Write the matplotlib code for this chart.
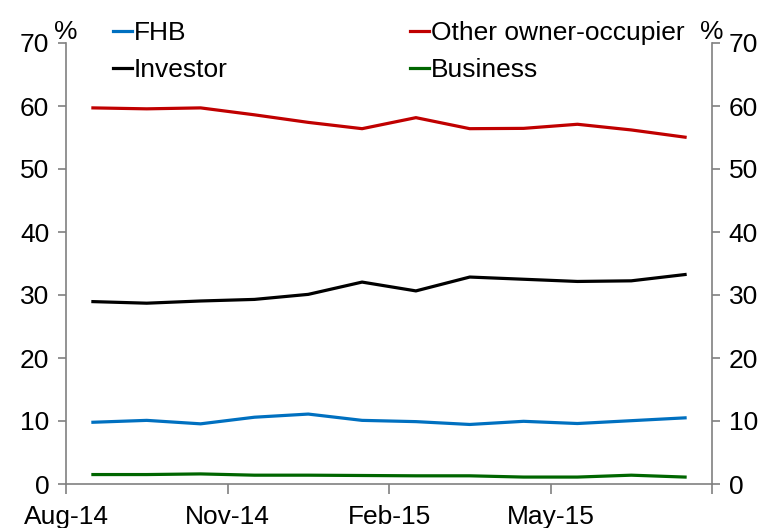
import matplotlib
matplotlib.use("Agg")
import matplotlib.pyplot as plt
import numpy as np

plt.rcParams['font.family'] = ['Liberation Sans', 'DejaVu Sans']

months = ['Aug-14', 'Sep-14', 'Oct-14', 'Nov-14', 'Dec-14', 'Jan-15',
          'Feb-15', 'Mar-15', 'Apr-15', 'May-15', 'Jun-15', 'Jul-15']
fhb = [9.8, 10.1, 9.55, 10.6, 11.1, 10.1, 9.9, 9.45, 9.95, 9.6, 10.05, 10.5]
other_oo = [59.7, 59.55, 59.7, 58.6, 57.4, 56.4, 58.15, 56.4, 56.45, 57.1, 56.2, 55.05]
investor = [28.95, 28.7, 29.05, 29.3, 30.1, 32.05, 30.65, 32.85, 32.5, 32.15, 32.25, 33.25]
business = [1.5, 1.5, 1.6, 1.4, 1.4, 1.35, 1.3, 1.3, 1.1, 1.1, 1.4, 1.1]

yticks = [0, 10, 20, 30, 40, 50, 60, 70]

FS = 19
spine_c = '#808080'

fig = plt.figure(figsize=(7.66, 5.28), dpi=100)
ax = fig.add_axes([66/766, 1-484/528, (712-66)/766, (484-43)/528])

x = np.arange(len(months)) + 0.5
lw = 2.3
l_fhb, = ax.plot(x, fhb, color='#0070C0', lw=lw, label='FHB')
l_oo, = ax.plot(x, other_oo, color='#C00000', lw=lw, label='Other owner-occupier')
l_inv, = ax.plot(x, investor, color='#000000', lw=lw, label='Investor')
l_bus, = ax.plot(x, business, color='#006600', lw=lw, label='Business')

ax.set_xlim(0, len(months))
ax.set_ylim(0, 70)
xt = np.arange(0, len(months) + 1, 3)
ax.set_xticks(xt)
ax.set_xticklabels([months[i] if i < len(months) else '' for i in xt], fontsize=FS)
ax.set_yticks(yticks)
ax.set_yticklabels([str(v) for v in yticks], fontsize=FS)

ax.spines['top'].set_visible(False)
for s in ['left', 'right', 'bottom']:
    ax.spines[s].set_color(spine_c)
    ax.spines[s].set_linewidth(1.2)

ax.tick_params(axis='y', which='both', direction='out', length=6, width=1.2,
               color=spine_c, left=True, right=True, labelleft=True, labelright=True, pad=6)
ax.tick_params(axis='x', direction='out', length=7, width=1.2, color=spine_c, pad=8)

ax.text(0.0, 0.998, '%', transform=ax.transAxes, ha='center', va='bottom', fontsize=FS)
ax.text(1.0, 0.998, '%', transform=ax.transAxes, ha='center', va='bottom', fontsize=FS)

leg = ax.legend(handles=[l_fhb, l_inv, l_oo, l_bus], ncol=2, frameon=False,
                fontsize=FS, handlelength=0.72, handletextpad=0.08,
                columnspacing=6.9, labelspacing=0.5,
                loc='upper left', bbox_to_anchor=(47/646, 1.05), borderaxespad=0,
                borderpad=0)

fig.savefig('out.png', dpi=100)
